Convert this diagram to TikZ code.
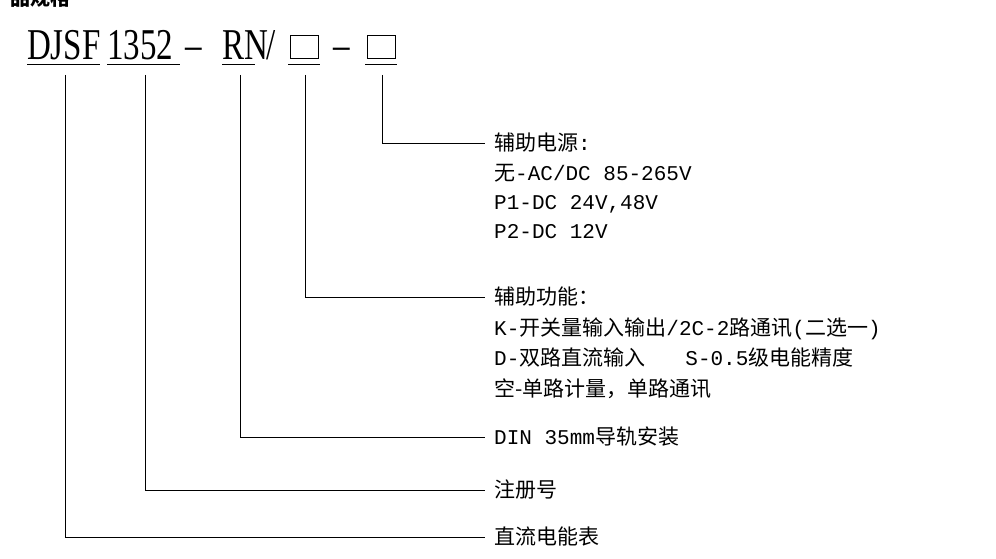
\documentclass[tikz,border=0pt]{standalone}
\usepackage{fontspec}
\setmainfont{Liberation Serif}
\newfontfamily\lm{Liberation Mono}
\newfontfamily\cjk{Noto Sans CJK SC}
\begin{document}
\begin{tikzpicture}[x=1pt,y=-1pt,
  ln/.style={line width=0.8pt},
  lbl/.style={anchor=base west,inner sep=0pt,font=\lm\fontsize{21}{21}\selectfont},
  big/.style={anchor=base west,inner sep=0pt,font=\fontsize{44}{44}\selectfont,xscale=0.75,transform shape}]
\useasboundingbox (0,0) rectangle (996,559);
\node[anchor=base west,inner sep=0pt,font=\cjk\bfseries\fontsize{20}{20}\selectfont] (hd) at (10,6) {品规格};
\node[big] (t1) at (27,60) {DJSF};
\node[big] (t2) at (107,60) {1352};
\node[big] (t3) at (185,60) {–};
\node[big] (t4) at (222,60) {RN};
\node[big] (t5) at (266,60) {/};
\node[big] (t7) at (333,60) {–};
\draw[ln] (290,35) rectangle (318,58);
\draw[ln] (367,35) rectangle (395,58);
\foreach \a/\b in {27/100,107/180,222/255,288/320,365/397}
  \draw[ln] (\a,64) -- (\b,64);
\coordinate (e1) at (485,143);
\coordinate (e2) at (485,297);
\coordinate (e3) at (485,437);
\coordinate (e4) at (485,490);
\coordinate (e5) at (485,537);
\draw[ln] (382,75) |- (e1);
\draw[ln] (305,75) |- (e2);
\draw[ln] (240,75) |- (e3);
\draw[ln] (145,75) |- (e4);
\draw[ln] (65,75) |- (e5);
\node[lbl] (a1) at (494,150) {{\cjk 辅助电源}:};
\node[lbl] (a2) at (494,180) {{\cjk 无}-AC/DC 85-265V};
\node[lbl] (a3) at (494,209) {P1-DC 24V,48V};
\node[lbl] (a4) at (494,238) {P2-DC 12V};
\node[lbl] (b1) at (494,304) {\cjk 辅助功能：};
\node[lbl] (b2) at (494,335) {K-{\cjk 开关量输入输出}/2C-2{\cjk 路通讯}({\cjk 二选一})};
\node[lbl] (b3) at (494,365) {D-{\cjk 双路直流输入}\hspace{40pt}S-0.5{\cjk 级电能精度}};
\node[lbl] (b4) at (494,396) {\cjk 空-单路计量，单路通讯};
\node[lbl] (c1) at (494,444) {DIN 35mm{\cjk 导轨安装}};
\node[lbl] (d1) at (494,497) {\cjk 注册号};
\node[lbl] (f1) at (494,544) {\cjk 直流电能表};
\end{tikzpicture}
\end{document}
